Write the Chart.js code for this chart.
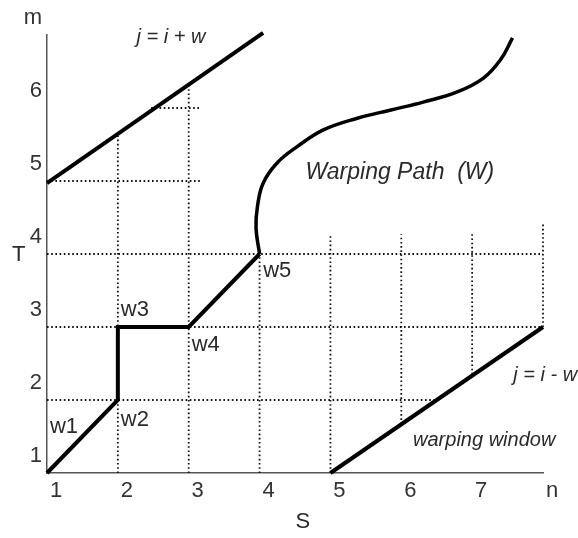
<!DOCTYPE html>
<html>
<head>
<meta charset="utf-8">
<script src="https://cdn.jsdelivr.net/npm/chart.js@4/dist/chart.umd.min.js"></script>
<style>
  html, body { margin: 0; padding: 0; background: #fff; }
  #wrap { width: 578px; height: 538px; }
</style>
</head>
<body>
<div id="wrap"><canvas id="c" width="578" height="538"></canvas></div>
<script>
// ---- data (S = x index, T = y index) ----
const sTicks = [1, 2, 3, 4, 5, 6, 7, 'n'];
const tTicks = [1, 2, 3, 4, 5, 6, 'm'];

const pathS = [1, 2, 2, 3, 4];
const pathT = [1, 2, 3, 3, 4];

const curveS = [4.00, 3.95, 3.97, 4.05, 4.25, 4.53, 4.90, 5.38, 5.84, 6.31, 6.79, 7.16, 7.40, 7.57];
const curveT = [4.00, 4.35, 4.65, 4.97, 5.25, 5.47, 5.70, 5.86, 5.97, 6.08, 6.22, 6.41, 6.66, 6.96];

const upperS = [1, 4.05];
const upperT = [4.97, 7.03];
const lowerS = [5, 8];
const lowerT = [1, 3];

// dotted grid segments: [from, to] per line
const vGridAt   = [2, 3, 4, 5, 6, 7, 8];
const vGridFrom = [1, 1, 1, 1, 1.67, 2.35, 3];
const vGridTo   = [5.63, 6.31, 4, 4.27, 4.27, 4.27, 4.43];
const hGridAt   = [2, 3, 4, 5, 6];
const hGridFrom = [1, 1, 1, 1, 2.47];
const hGridTo   = [6.52, 8, 8, 3.17, 3.17];

const labels = [
  { text: 'w1', s: 1.24, t: 1.63 },
  { text: 'w2', s: 2.24, t: 1.73 },
  { text: 'w3', s: 2.24, t: 3.23 },
  { text: 'w4', s: 3.24, t: 2.75 },
  { text: 'w5', s: 4.25, t: 3.77 }
];

// ---- build datasets ----
const zip = (xs, ys) => xs.map((x, i) => ({ x: x, y: ys[i] }));
const thick = { showLine: true, pointRadius: 0, borderColor: '#000', borderWidth: 4, fill: false, clip: false };
const dotted = { showLine: true, pointRadius: 0, borderColor: '#111', borderWidth: 1.8, borderDash: [1.6, 2.6], fill: false, clip: false };

const datasets = [
  Object.assign({ data: zip(pathS, pathT), tension: 0, borderJoinStyle: 'miter' }, thick),
  Object.assign({ data: zip(curveS, curveT), tension: 0.4 }, thick, { borderWidth: 3.5 }),
  Object.assign({ data: zip(upperS, upperT) }, thick),
  Object.assign({ data: zip(lowerS, lowerT) }, thick)
];
vGridAt.forEach((x, i) => datasets.push(Object.assign({ data: [{ x: x, y: vGridFrom[i] }, { x: x, y: vGridTo[i] }] }, dotted)));
hGridAt.forEach((y, i) => datasets.push(Object.assign({ data: [{ x: hGridFrom[i], y: y }, { x: hGridTo[i], y: y }] }, dotted)));

// ---- text annotations ----
const textPlugin = {
  id: 'texts',
  afterDraw(chart) {
    const { ctx, scales: { x, y } } = chart;
    const put = (txt, s, t, font, align) => {
      ctx.save();
      ctx.font = font;
      ctx.fillStyle = '#2a2a2a';
      ctx.textAlign = align || 'center';
      ctx.textBaseline = 'middle';
      ctx.fillText(txt, x.getPixelForValue(s), y.getPixelForValue(t));
      ctx.restore();
    };
    const reg = '22px "Liberation Sans", Arial, sans-serif';
    labels.forEach(l => put(l.text, l.s, l.t, reg));
    put('T', 0.60, 3.99, reg);
    put('S', 4.61, 0.33, reg);
    put('j = i + w', 2.75, 6.97, 'italic 20px "Liberation Sans", Arial, sans-serif');
    put('Warping Path  (W)', 5.98, 5.11, 'italic 23px "Liberation Sans", Arial, sans-serif');
    put('warping window', 7.17, 1.44, 'italic 20px "Liberation Sans", Arial, sans-serif');
    put('j = i - w', 7.58, 2.34, 'italic 20px "Liberation Sans", Arial, sans-serif', 'left');
  }
};

const tickFont = { family: '"Liberation Sans", Arial, sans-serif', size: 22 };

new Chart(document.getElementById('c'), {
  type: 'scatter',
  data: { datasets: datasets },
  options: {
    responsive: false,
    animation: false,
    events: [],
    layout: { padding: { left: 0, right: 35, top: 35, bottom: 0 } },
    plugins: { legend: { display: false }, tooltip: { enabled: false } },
    scales: {
      x: {
        type: 'linear', min: 1, max: 8,
        grid: { display: false, drawTicks: false },
        border: { display: true, color: '#555', width: 1.5 },
        afterFit: s => { s.height = 65; },
        afterBuildTicks: s => { s.ticks = sTicks.map((_, i) => ({ value: i + 1 })); },
        ticks: {
          font: tickFont, color: '#333', padding: 5, labelOffset: 9,
          autoSkip: false, maxRotation: 0,
          callback: (v, i) => sTicks[i]
        }
      },
      y: {
        type: 'linear', min: 1, max: 7,
        grid: { display: false, drawTicks: false },
        border: { display: true, color: '#555', width: 1.5 },
        afterFit: s => { s.width = 47; },
        afterBuildTicks: s => { s.ticks = tTicks.map((_, i) => ({ value: i + 1 })); },
        ticks: {
          font: tickFont, color: '#333', padding: 5, labelOffset: -17,
          autoSkip: false,
          callback: (v, i) => tTicks[i]
        }
      }
    }
  },
  plugins: [textPlugin]
});
</script>
</body>
</html>
